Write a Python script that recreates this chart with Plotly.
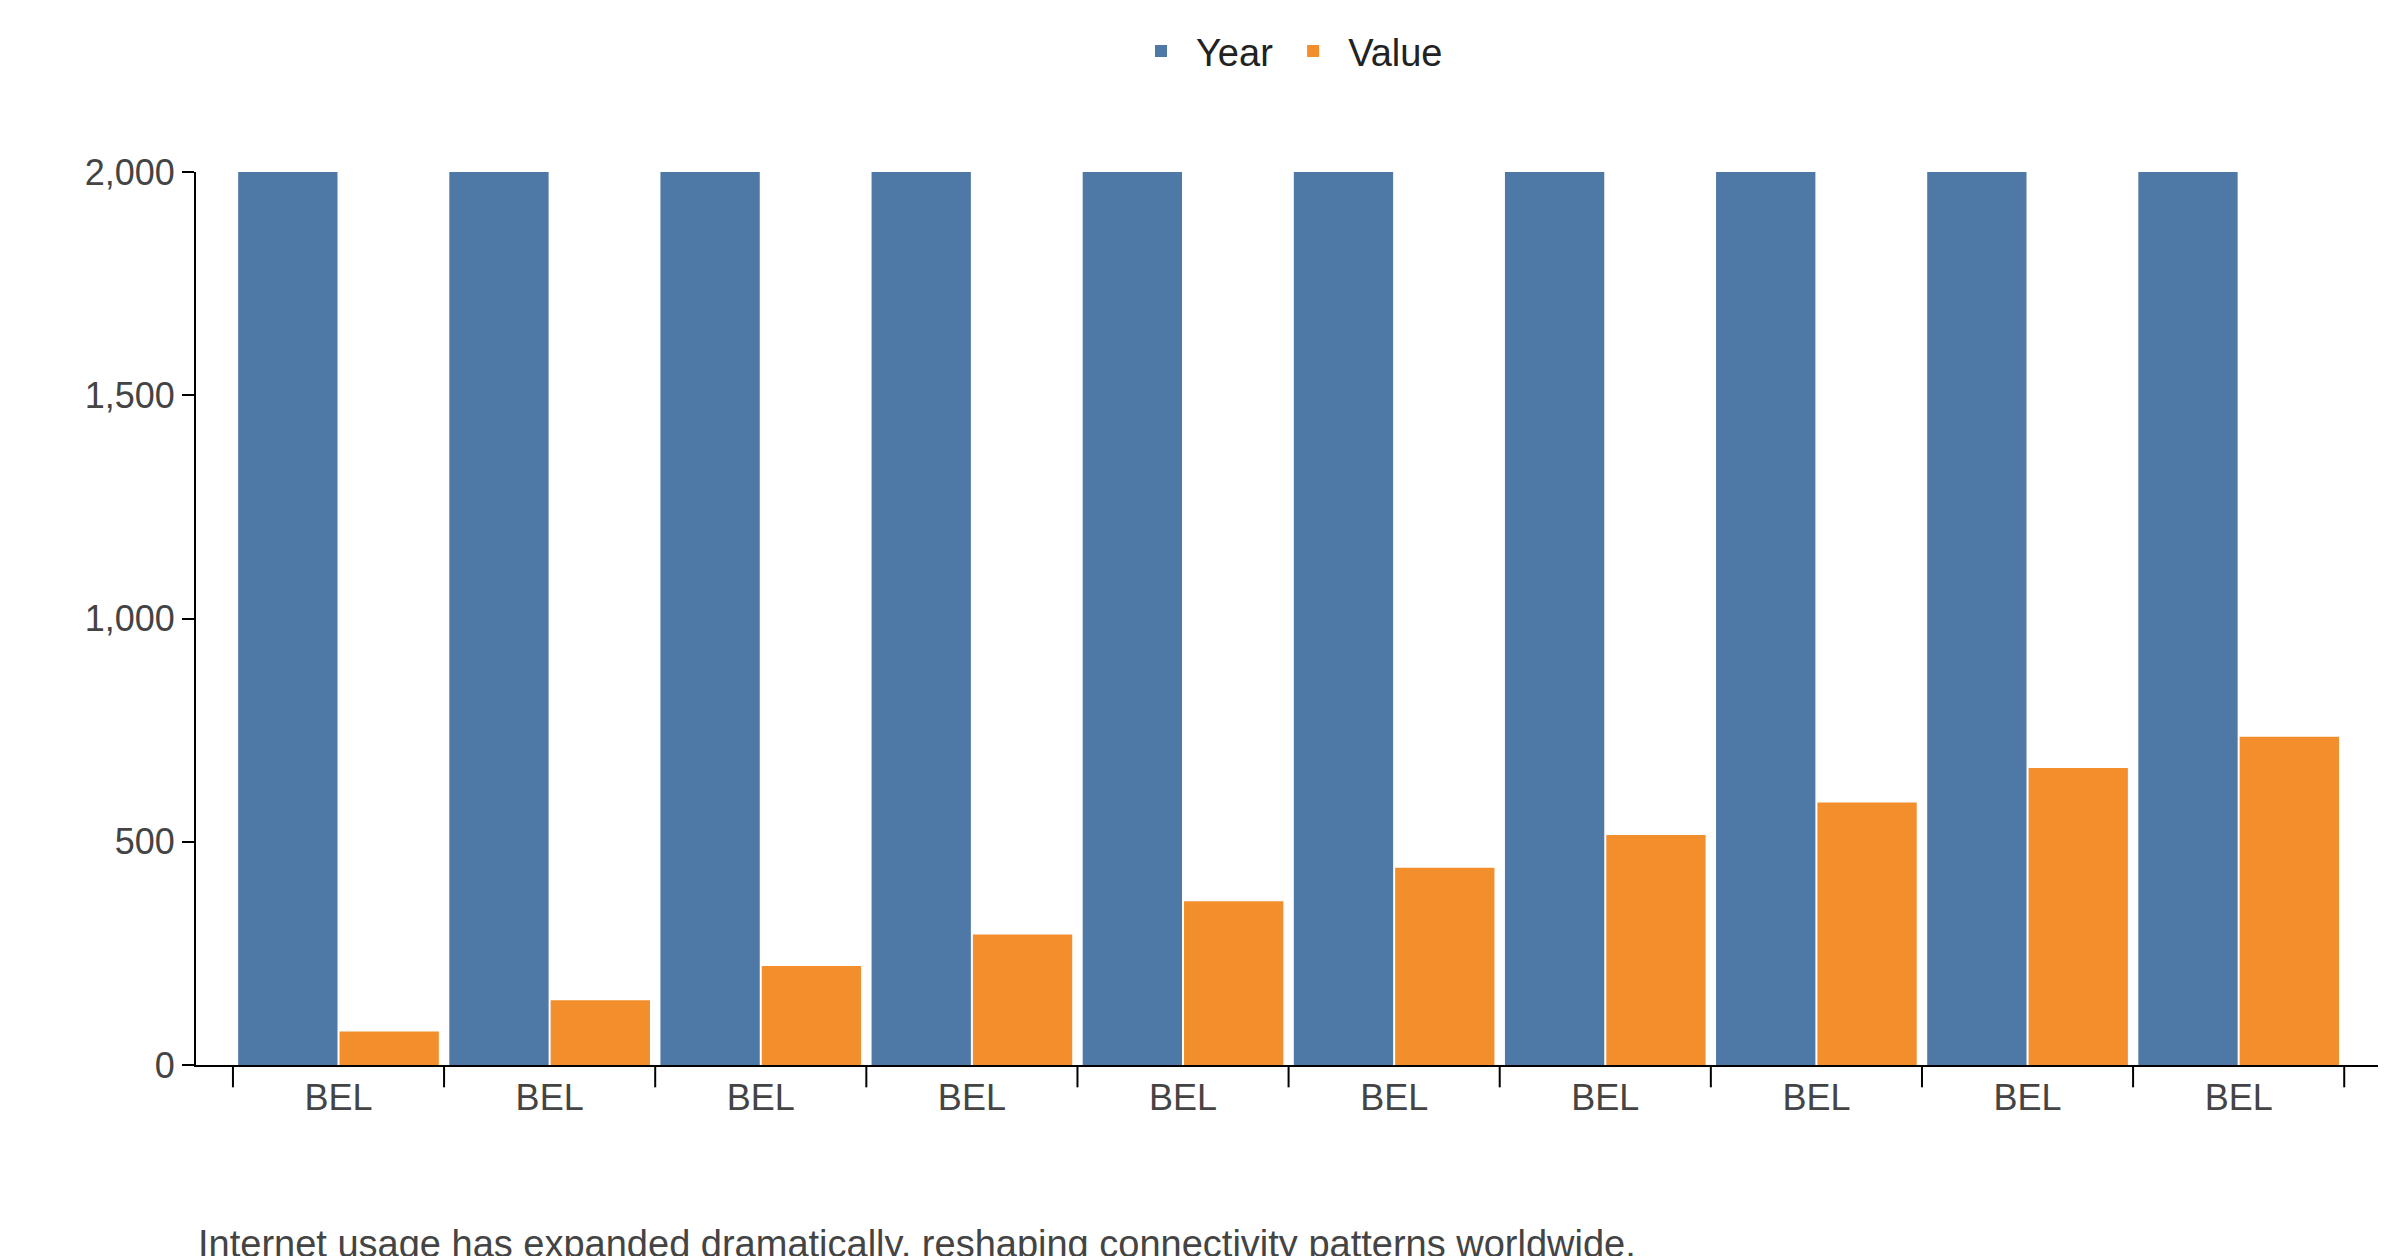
import plotly.graph_objects as go

categories = ["BEL"] * 10
years = [2005, 2006, 2007, 2008, 2009, 2010, 2011, 2012, 2013, 2014]
values = [75, 145, 222, 292, 367, 442, 515, 588, 665, 735]
yticks = [0, 500, 1000, 1500, 2000]
caption = "Internet usage has expanded dramatically, reshaping connectivity patterns worldwide."

x = list(range(len(categories)))
fig = go.Figure()
fig.add_bar(x=x, y=years, name="Year", marker=dict(color="#4e79a7", line=dict(width=0)))
fig.add_bar(x=x, y=values, name="Value", marker=dict(color="#f28e2b", line=dict(width=0)))

font = dict(family="Liberation Sans, Arial, sans-serif", size=36, color="#444")
fig.update_layout(
    width=2400, height=1256, barmode="group", bargap=0.04, bargroupgap=0.02,
    plot_bgcolor="white", paper_bgcolor="white", font=font,
    margin=dict(l=188, r=30, t=101, b=199),
    legend=dict(orientation="h", x=0.5, xanchor="center", y=1.1, yanchor="bottom",
                font=dict(size=38, color="#222"), itemwidth=60),
    xaxis=dict(range=[-0.675, 9.66], tickvals=x, ticktext=categories, showgrid=False,
               showline=True, linecolor="black", linewidth=2, ticks="", zeroline=False,
               tickfont=dict(size=36, color="#444")),
    yaxis=dict(range=[0, 2000], tickvals=yticks, tickformat=",", showgrid=False,
               showline=True, linecolor="black", linewidth=2, ticks="outside",
               ticklen=12, tickwidth=2, tickcolor="black", zeroline=False,
               tickfont=dict(size=36, color="#444")),
    annotations=[dict(text=caption, xref="paper", yref="paper", x=0, y=-0.175,
                      xanchor="left", yanchor="top", showarrow=False,
                      font=dict(size=38, color="#444"))],
)
# group boundary ticks
for b in [i - 0.5 for i in range(11)]:
    fig.add_shape(type="line", xref="x", yref="paper", x0=b, x1=b, y0=0, y1=-0.025,
                  line=dict(color="black", width=2))
fig.write_html("out.html")
